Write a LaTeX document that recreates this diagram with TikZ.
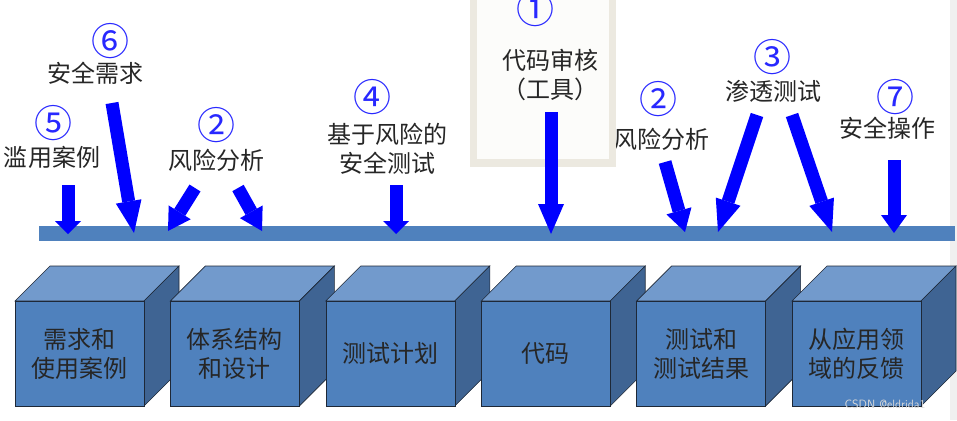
\documentclass[tikz,border=0pt]{standalone}
\usepackage{fontspec}
\usepackage{tikz}
\usetikzlibrary{arrows.meta}
\newfontfamily\cjk{Noto Sans CJK SC}
\definecolor{barblue}{RGB}{79,129,189}
\definecolor{topblue}{RGB}{114,154,204}
\definecolor{sideblue}{RGB}{63,100,147}
\definecolor{edgeblue}{RGB}{30,40,55}
\definecolor{arrblue}{RGB}{0,0,255}
\definecolor{numblue}{RGB}{40,40,255}
\definecolor{frametan}{RGB}{236,233,224}
\definecolor{panelwhite}{RGB}{252,252,250}

\begin{document}
\begin{tikzpicture}[x=1pt, y=-1pt,
	every node/.style={font=\cjk\fontsize{24}{29}\selectfont, text=black!85, align=center, inner sep=0pt},
	num/.style={font=\cjk\fontsize{38}{40}\selectfont, text=numblue},
	cubefront/.style={draw=edgeblue, fill=barblue, line width=0.6pt, minimum width=129pt, minimum height=105pt},
	blkarrow/.style={arrblue, line width=13pt, -{Triangle[width=26pt, length=#1, line width=0pt]}}]
	\useasboundingbox (0,0) rectangle (957,420);
	\fill[gray!12] (950,0) rectangle (957,420);
	\fill[barblue] (39,226) rectangle (955,241);
	% stages
	\foreach \i/\lbl in {1/{需求和\\使用案例}, 2/{体系结构\\和设计}, 3/测试计划, 4/代码, 5/{测试和\\测试结果}, 6/{从应用领\\域的反馈}} {
		\pgfmathsetmacro\xl{15+155.4*(\i-1)}
		\filldraw[fill=topblue, draw=edgeblue, line width=0.6pt] (\xl,301) -- ++(35,-35) -- ++(129,0) -- ++(-35,35) -- cycle;
		\filldraw[fill=sideblue, draw=edgeblue, line width=0.6pt] (\xl+129,301) -- ++(35,-35) -- ++(0,105) -- ++(-35,35) -- cycle;
		\node[cubefront] (stage\i) at (\xl+64.5,353.5) {\lbl};
	}
	% labels
	\node[num] (n5) at (53,123) {⑤};
	\node (abuse) at (52,157) {滥用案例};
	\node[num] (n6) at (110,41) {⑥};
	\node (secreq) at (95,73) {安全需求};
	\node[num] (n2a) at (216,125) {②};
	\node (riskA) at (216,160) {风险分析};
	\node[num] (n4) at (372,97) {④};
	\node (risktest) at (387,149) {基于风险的\\安全测试};
	\node[num] (n2b) at (658,99) {②};
	\node (riskB) at (661,139) {风险分析};
	\node[num] (n3) at (772,57) {③};
	\node (pentest) at (773,91) {渗透测试};
	\node[num] (n7) at (895,97) {⑦};
	\node (secops) at (887,128) {安全操作};
	% code review panel
	\fill[frametan] (470,-5) rectangle (616,167);
	\fill[panelwhite] (477,-5) rectangle (609,159);
	\node[num] (n1) at (535,9) {①};
	\node (review) at (550,75) {代码审核\\（工具）};
	% arrows
	\foreach \n/\ax/\ay/\bx/\by/\hl in {1/68/185/68/234/13pt, 2/112/103/134/233/32pt, 3/195/188/168/231/22pt, 4/238/188/262/231/22pt, 5/396/185/396/234/13pt, 6/551/112/551/234/30pt, 7/665/162/685/232/22pt, 8/757/115/718/232/32pt, 9/792/115/832/232/32pt, 10/894/160/894/233/18pt} {
		\coordinate (tail\n) at (\ax,\ay);
		\coordinate (tip\n) at (\bx,\by);
		\draw[blkarrow=\hl] (tail\n) -- (tip\n);
	}
	\node[font=\sffamily\fontsize{12}{14}\selectfont, text=white!70!gray] (mark) at (885,404) {CSDN @eldrida1};
\end{tikzpicture}
\end{document}
